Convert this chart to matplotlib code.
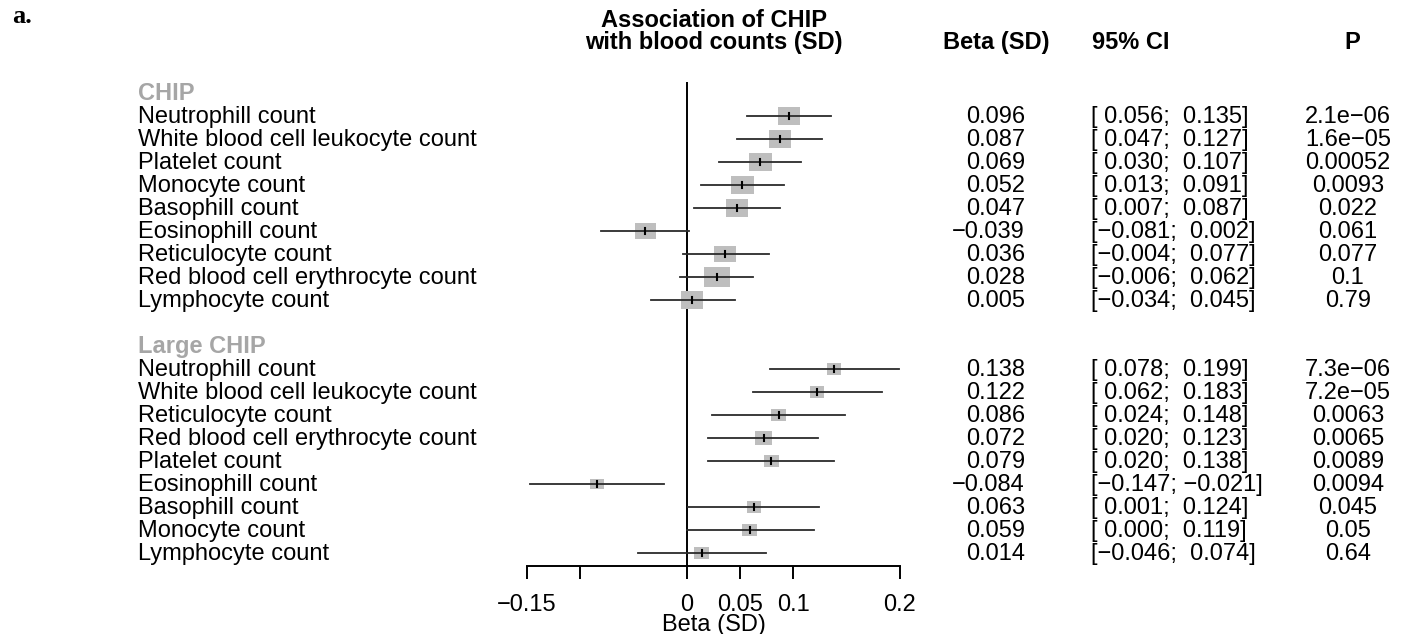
import numpy as np
import matplotlib.pyplot as plt
from matplotlib.patches import Rectangle

W, H = 1401, 634

# ---- data ----
chip_traits = ["Neutrophill count", "White blood cell leukocyte count", "Platelet count",
               "Monocyte count", "Basophill count", "Eosinophill count",
               "Reticulocyte count", "Red blood cell erythrocyte count", "Lymphocyte count"]
chip_beta = [0.096, 0.087, 0.069, 0.052, 0.047, -0.039, 0.036, 0.028, 0.005]
chip_lo = [0.056, 0.047, 0.030, 0.013, 0.007, -0.081, -0.004, -0.006, -0.034]
chip_hi = [0.135, 0.127, 0.107, 0.091, 0.087, 0.002, 0.077, 0.062, 0.045]
chip_p = ["2.1e\u221206", "1.6e\u221205", "0.00052", "0.0093", "0.022", "0.061",
          "0.077", "0.1", "0.79"]

large_traits = ["Neutrophill count", "White blood cell leukocyte count", "Reticulocyte count",
                "Red blood cell erythrocyte count", "Platelet count", "Eosinophill count",
                "Basophill count", "Monocyte count", "Lymphocyte count"]
large_beta = [0.138, 0.122, 0.086, 0.072, 0.079, -0.084, 0.063, 0.059, 0.014]
large_lo = [0.078, 0.062, 0.024, 0.020, 0.020, -0.147, 0.001, 0.000, -0.046]
large_hi = [0.199, 0.183, 0.148, 0.123, 0.138, -0.021, 0.124, 0.119, 0.074]
large_p = ["7.3e\u221206", "7.2e\u221205", "0.0063", "0.0065", "0.0089", "0.0094",
           "0.045", "0.05", "0.64"]

groups = [("CHIP", chip_traits, chip_beta, chip_lo, chip_hi, chip_p),
          ("Large CHIP", large_traits, large_beta, large_lo, large_hi, large_p)]

xticks = [-0.15, -0.1, 0, 0.05, 0.1, 0.2]
xticklabels = ["\u22120.15", "", "0", "0.05", "0.1", "0.2"]

plt.rcParams["font.family"] = ["Liberation Sans", "DejaVu Sans"]
FS = 17
BASE = 7  # baseline offset below the row centre, px


def fx(px):
    return px / W


def fy(py):
    return 1 - py / H


def mfmt(v):
    return f"{v:.3f}".replace("-", "\u2212")


def cifmt(lo, hi):
    return f"[{lo:6.3f}; {hi:6.3f}]".replace("-", "\u2212")


def put(x, y, s, ha="left", **kw):
    fig.text(fx(x), fy(y + BASE), s, fontsize=FS, ha=ha, va="baseline", **kw)


fig = plt.figure(figsize=(W / 100, H / 100), dpi=100)

# rows: y pixel = ROW0 + STEP * row index
ROW0, STEP = 93, 23
top_px, bot_px = 82, 566
ax = fig.add_axes([fx(527), fy(bot_px), (900 - 527) / W, (bot_px - top_px) / H])
ax.set_xlim(-0.15, 0.2)
ax.set_ylim((bot_px - ROW0) / STEP, (top_px - ROW0) / STEP)

px_per_x = 373 / 0.35
row = 0
for name, traits, beta, lo, hi, pv in groups:
    put(138, ROW0 + STEP * row, name, color="#a6a6a6", fontweight="bold")
    row += 1
    for t, b, l, h, p in zip(traits, beta, lo, hi, pv):
        y = ROW0 + STEP * row
        put(138, y, t)
        put(1025, y, mfmt(b), ha="right")
        put(1091, y, cifmt(l, h))
        put(1348, y, p, ha="center")
        # box size ~ inverse standard error
        se = (h - l) / 3.92
        bw = 0.45 / se
        bh = bw * 0.78
        ax.add_patch(Rectangle((b - bw / 2 / px_per_x, row - bh / 2 / STEP),
                               bw / px_per_x, bh / STEP, facecolor="#bebebe",
                               edgecolor="none", zorder=2))
        ax.plot([l, h], [row, row], color="#2b2b2b", lw=1.3, zorder=3)
        ax.plot([b, b], [row - 3.2 / STEP, row + 3.2 / STEP], color="black", lw=1.5, zorder=4)
        row += 1
    row += 1

ax.axvline(0, color="black", lw=1.4, zorder=1)

for s in ["top", "right", "left"]:
    ax.spines[s].set_visible(False)
ax.spines["bottom"].set_bounds(-0.15, 0.2)
ax.spines["bottom"].set_linewidth(1.4)
ax.set_yticks([])
ax.set_xticks(xticks)
ax.set_xticklabels(xticklabels, fontsize=FS)
ax.tick_params(axis="x", length=9, width=1.4, pad=11)

# headers
put(714, 20, "Association of CHIP", ha="center", fontweight="bold")
put(714, 42, "with blood counts (SD)", ha="center", fontweight="bold")
put(996, 42, "Beta (SD)", ha="center", fontweight="bold")
put(1092, 42, "95% CI", fontweight="bold")
put(1352, 42, "P", ha="center", fontweight="bold")
put(714, 624, "Beta (SD)", ha="center")
fig.text(fx(12), fy(23), "a.", fontsize=19, fontweight="bold", family="Liberation Serif",
         ha="left", va="baseline")

fig.savefig("out.png", dpi=100)
